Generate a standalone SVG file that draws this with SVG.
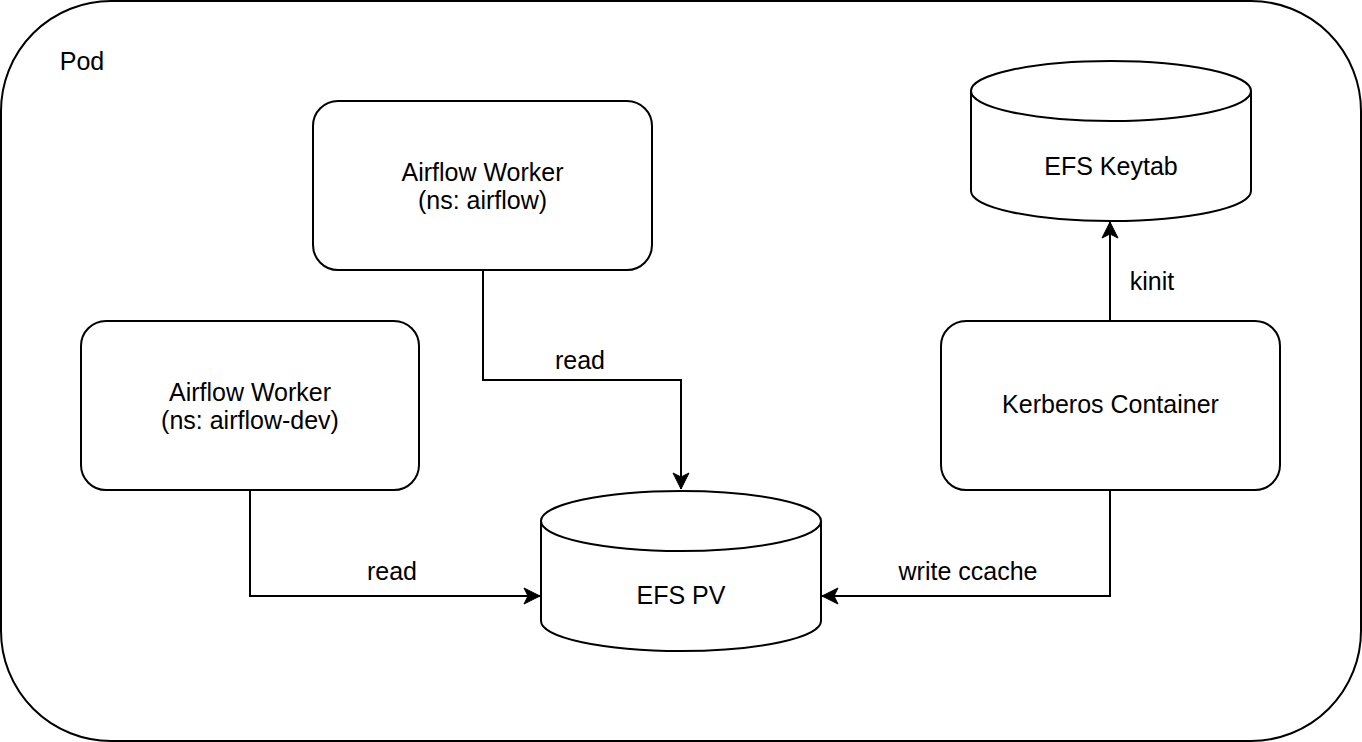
<svg xmlns="http://www.w3.org/2000/svg" width="1362" height="742" viewBox="0 0 1362 742">
<style>
.box{fill:#fff;stroke:#000;stroke-width:2}
.t{font-family:"Liberation Sans",Arial,sans-serif;font-size:25px;fill:#000;text-anchor:middle}
.e{fill:none;stroke:#000;stroke-width:2}
</style>
<defs>
<marker id="arr" viewBox="0 0 20 20" refX="18" refY="10" markerWidth="20" markerHeight="20" markerUnits="userSpaceOnUse" orient="auto">
<path d="M2,2 L18,10 L2,18 L6,10 Z" fill="#000" stroke="#000" stroke-width="1"/>
</marker>
</defs>
<rect width="1362" height="742" fill="#fff"/>
<g id="pod">
<rect class="box" x="1" y="1" width="1360" height="740" rx="110" ry="110"/>
<text class="t" x="82" y="70">Pod</text>
</g>
<g id="worker-airflow">
<rect class="box" x="313" y="101" width="339" height="169" rx="25" ry="25"/>
<text class="t" x="482.5" y="181">Airflow Worker</text>
<text class="t" x="482.5" y="209">(ns: airflow)</text>
</g>
<g id="worker-dev">
<rect class="box" x="81" y="321" width="338" height="169" rx="25" ry="25"/>
<text class="t" x="250" y="401">Airflow Worker</text>
<text class="t" x="250" y="429">(ns: airflow-dev)</text>
</g>
<g id="kerberos">
<rect class="box" x="941" y="321" width="339" height="169" rx="25" ry="25"/>
<text class="t" x="1110.5" y="413">Kerberos Container</text>
</g>
<g id="efs-pv">
<path class="box" d="M541,521 A140,30 0 0 1 821,521 L821,621 A140,30 0 0 1 541,621 Z"/>
<path class="e" d="M541,521 A140,30 0 0 0 821,521"/>
<text class="t" x="681" y="604">EFS PV</text>
</g>
<g id="efs-keytab">
<path class="box" d="M971,91 A140,30 0 0 1 1251,91 L1251,191 A140,30 0 0 1 971,191 Z"/>
<path class="e" d="M971,91 A140,30 0 0 0 1251,91"/>
<text class="t" x="1111" y="175">EFS Keytab</text>
</g>
<g id="connectors">
<path class="e" d="M483,270 L483,380 L681,380 L681,489" marker-end="url(#arr)"/>
<text class="t" x="580" y="369">read</text>
<path class="e" d="M250,490 L250,596 L540,596" marker-end="url(#arr)"/>
<text class="t" x="392" y="580">read</text>
<path class="e" d="M1110,490 L1110,596 L822,596" marker-end="url(#arr)"/>
<text class="t" x="968" y="580">write ccache</text>
<path class="e" d="M1110,321 L1110,222" marker-end="url(#arr)"/>
<text class="t" x="1152" y="290">kinit</text>
</g>
</svg>
